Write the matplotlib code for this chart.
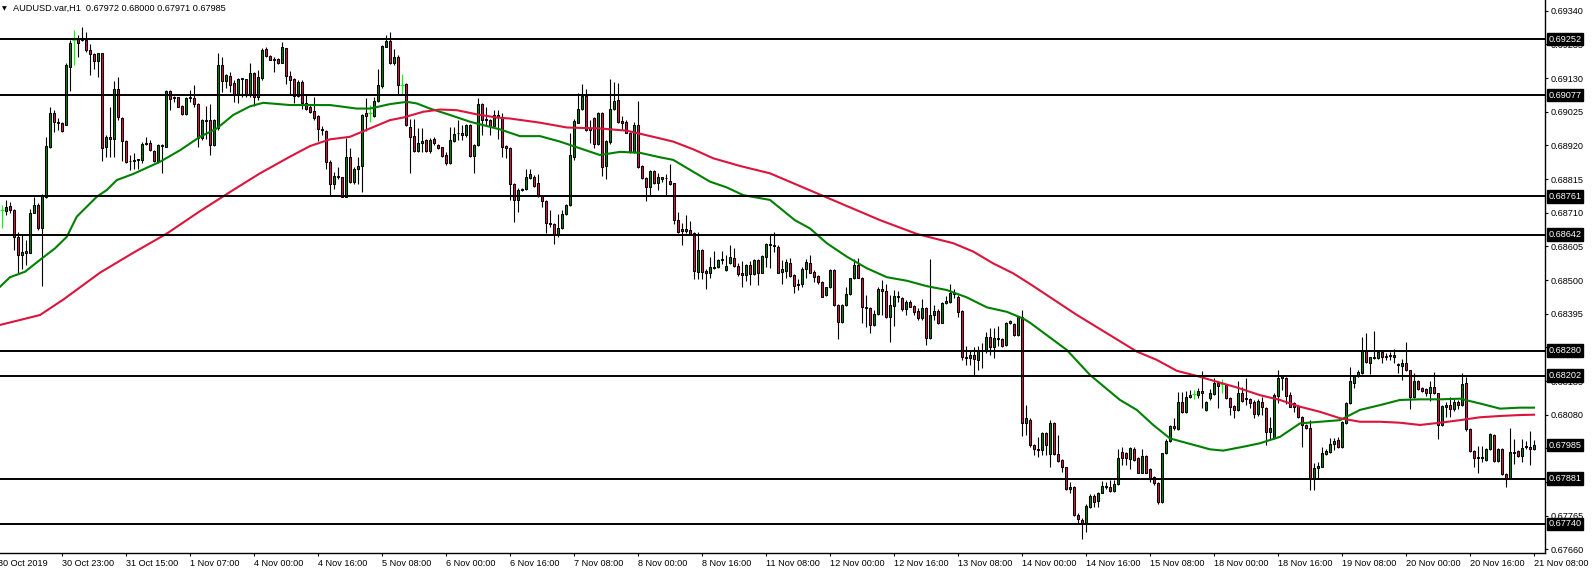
import numpy as np
import matplotlib
matplotlib.use("Agg")
import matplotlib.pyplot as plt
from matplotlib.transforms import blended_transform_factory

# AUDUSD.var H1 candles, oldest first, prices in pips (x 0.0001)
opens_pips = [
    6871.8, 6871.6, 6873.1, 6872.0, 6863.5, 6857.8, 6858.5, 6858.6,
    6871.0, 6873.4, 6866.1, 6876.0, 6891.4, 6902.2, 6899.4, 6898.9,
    6898.5, 6916.5, 6924.9, 6925.4, 6924.9, 6924.9, 6921.7, 6920.5,
    6918.4, 6920.7, 6891.6, 6894.7, 6893.9, 6909.5, 6900.7, 6893.5,
    6887.3, 6887.1, 6887.4, 6887.4, 6892.9, 6892.8, 6890.2, 6887.2,
    6891.8, 6891.6, 6909.0, 6907.0, 6907.0, 6904.3, 6901.7, 6906.7,
    6906.7, 6904.9, 6894.2, 6899.9, 6899.9, 6892.0, 6897.3, 6917.1,
    6912.2, 6913.7, 6911.5, 6907.7, 6912.6, 6912.7, 6907.7, 6914.5,
    6907.2, 6912.9, 6922.0, 6919.9, 6919.1, 6919.1, 6917.8, 6922.3,
    6913.6, 6912.6, 6907.4, 6911.9, 6905.1, 6903.9, 6902.8, 6901.1,
    6897.0, 6896.5, 6886.9, 6879.9, 6882.2, 6882.0, 6876.0, 6888.3,
    6880.7, 6884.8, 6885.6, 6902.0, 6902.0, 6901.1, 6905.9, 6910.6,
    6922.8, 6924.7, 6917.6, 6919.7, 6911.0, 6911.3, 6897.6, 6894.9,
    6890.3, 6892.8, 6893.7, 6890.3, 6893.9, 6892.1, 6891.4, 6889.0,
    6886.4, 6893.5, 6895.8, 6896.0, 6895.2, 6898.3, 6888.7, 6892.1,
    6904.9, 6900.2, 6899.9, 6898.0, 6901.5, 6900.9, 6891.8, 6891.1,
    6879.9, 6875.0, 6878.1, 6878.3, 6881.7, 6882.2, 6880.2, 6876.2,
    6874.7, 6867.9, 6867.5, 6864.4, 6866.1, 6870.6, 6873.4, 6888.5,
    6899.1, 6903.3, 6907.4, 6897.3, 6900.5, 6892.6, 6902.2, 6885.6,
    6893.2, 6903.3, 6906.2, 6899.6, 6899.4, 6896.0, 6890.0, 6898.4,
    6885.6, 6881.7, 6878.9, 6884.0, 6880.2, 6882.0, 6881.7, 6880.9,
    6880.2, 6868.7, 6865.8, 6865.3, 6865.6, 6864.8, 6852.6, 6859.4,
    6852.9, 6852.1, 6854.0, 6854.0, 6856.3, 6853.1, 6855.2, 6856.8,
    6854.4, 6852.1, 6851.6, 6854.7, 6851.9, 6856.3, 6852.3, 6857.3,
    6860.9, 6860.6, 6860.4, 6852.6, 6852.9, 6855.4, 6851.6, 6848.8,
    6848.8, 6853.3, 6855.4, 6852.6, 6851.3, 6849.5, 6845.3, 6847.7,
    6853.1, 6842.2, 6837.0, 6842.2, 6845.6, 6850.5, 6854.7, 6850.8,
    6841.5, 6841.2, 6836.0, 6839.4, 6847.1, 6846.7, 6838.4, 6841.9,
    6845.0, 6844.3, 6840.9, 6843.3, 6841.9, 6840.5, 6838.1, 6841.2,
    6831.8, 6839.1, 6840.5, 6836.7, 6843.0, 6843.3, 6846.1, 6844.8,
    6840.5, 6826.1, 6825.6, 6826.6, 6825.1, 6827.8, 6828.2, 6832.1,
    6829.2, 6831.6, 6831.5, 6829.7, 6836.5, 6836.3, 6832.8, 6838.6,
    6805.5, 6806.5, 6798.5, 6797.2, 6797.0, 6802.4, 6795.8, 6805.5,
    6795.8, 6793.9, 6791.6, 6784.7, 6785.6, 6776.7, 6775.2, 6774.1,
    6779.3, 6782.6, 6781.2, 6783.7, 6785.4, 6785.4, 6784.3, 6786.4,
    6796.5, 6796.2, 6794.1, 6797.2, 6794.4, 6789.9, 6795.1, 6791.0,
    6788.7, 6786.8, 6780.9, 6795.9, 6799.9, 6804.5, 6803.4, 6812.1,
    6808.9, 6813.6, 6814.5, 6814.2, 6815.5, 6809.5, 6813.1, 6814.5,
    6817.8, 6817.5, 6817.3, 6813.1, 6810.7, 6809.5, 6814.9, 6813.1,
    6812.8, 6812.1, 6808.2, 6812.1, 6810.0, 6802.7, 6800.6, 6813.8,
    6819.3, 6819.3, 6814.1, 6811.5, 6810.7, 6807.2, 6804.8, 6804.0,
    6788.1, 6791.3, 6791.8, 6795.7, 6796.4, 6798.9, 6800.1, 6797.8,
    6805.5, 6811.5, 6818.0, 6820.1, 6820.9, 6828.0, 6824.2, 6825.6,
    6825.6, 6827.7, 6826.3, 6826.2, 6826.1, 6823.8, 6823.2, 6824.0,
    6821.9, 6813.4, 6818.6, 6816.2, 6815.9, 6814.7, 6816.5, 6814.7,
    6804.8, 6810.5, 6811.0, 6809.7, 6812.1, 6811.0, 6818.0, 6803.4,
    6796.8, 6794.4, 6794.9, 6793.9, 6797.2, 6801.7, 6793.7, 6797.2,
    6789.5, 6788.1, 6796.5, 6796.8, 6795.1, 6798.2, 6798.0, 6797.2,
]
highs_pips = [
    6873.4, 6874.9, 6874.4, 6872.3, 6865.1, 6864.0, 6862.5, 6872.3,
    6876.0, 6873.9, 6877.0, 6894.7, 6903.9, 6903.0, 6900.7, 6899.4,
    6917.6, 6924.9, 6928.0, 6926.4, 6929.0, 6927.5, 6923.8, 6920.7,
    6920.9, 6920.9, 6895.2, 6903.9, 6912.2, 6913.4, 6900.9, 6893.7,
    6889.0, 6889.5, 6887.9, 6893.1, 6894.5, 6893.7, 6890.5, 6892.4,
    6892.6, 6909.3, 6909.3, 6907.4, 6907.2, 6904.6, 6907.2, 6909.3,
    6910.8, 6905.1, 6900.4, 6904.3, 6904.9, 6900.1, 6920.7, 6919.7,
    6914.3, 6915.0, 6912.4, 6912.9, 6913.1, 6912.7, 6917.6, 6915.0,
    6915.5, 6922.3, 6922.6, 6920.2, 6919.7, 6919.4, 6924.3, 6922.4,
    6915.3, 6912.9, 6912.4, 6912.4, 6908.0, 6904.6, 6907.2, 6901.5,
    6898.0, 6896.8, 6887.4, 6883.8, 6885.3, 6882.2, 6894.2, 6891.1,
    6885.3, 6888.5, 6901.8, 6906.7, 6904.6, 6907.0, 6916.0, 6923.3,
    6926.4, 6927.5, 6922.0, 6920.2, 6914.3, 6911.5, 6900.1, 6900.1,
    6897.3, 6897.3, 6893.9, 6894.2, 6894.7, 6892.4, 6891.6, 6890.0,
    6897.6, 6897.6, 6899.9, 6898.3, 6898.7, 6898.7, 6892.4, 6906.7,
    6905.1, 6904.1, 6900.1, 6903.2, 6903.0, 6902.0, 6892.1, 6891.4,
    6880.2, 6878.6, 6878.6, 6884.8, 6884.8, 6882.8, 6883.1, 6876.5,
    6875.0, 6871.8, 6867.7, 6870.6, 6872.0, 6873.7, 6895.8, 6900.1,
    6908.3, 6911.2, 6909.5, 6899.9, 6900.8, 6902.5, 6902.5, 6893.7,
    6912.6, 6911.9, 6911.6, 6901.2, 6899.9, 6896.3, 6899.4, 6906.0,
    6885.9, 6882.2, 6884.3, 6884.3, 6883.5, 6882.2, 6883.1, 6886.2,
    6880.4, 6871.3, 6867.7, 6870.3, 6868.5, 6865.1, 6865.1, 6859.6,
    6853.3, 6857.1, 6859.2, 6856.5, 6859.2, 6857.8, 6860.9, 6859.9,
    6855.2, 6856.0, 6855.0, 6856.0, 6856.5, 6856.5, 6857.8, 6861.5,
    6864.1, 6865.1, 6860.9, 6856.3, 6856.5, 6856.8, 6851.9, 6850.2,
    6854.2, 6856.5, 6857.8, 6853.1, 6851.6, 6849.8, 6847.9, 6853.4,
    6853.4, 6842.5, 6842.5, 6847.9, 6850.8, 6856.5, 6856.8, 6851.1,
    6845.3, 6841.5, 6840.7, 6847.9, 6850.0, 6848.8, 6845.3, 6846.9,
    6846.7, 6844.8, 6843.8, 6843.8, 6842.2, 6841.2, 6844.0, 6841.5,
    6856.5, 6842.2, 6840.9, 6843.3, 6845.0, 6848.8, 6847.1, 6845.3,
    6840.7, 6829.4, 6828.0, 6829.2, 6829.4, 6830.5, 6833.9, 6835.2,
    6835.2, 6835.7, 6831.8, 6837.0, 6837.7, 6836.5, 6838.8, 6840.7,
    6811.0, 6806.9, 6798.9, 6801.2, 6802.7, 6802.7, 6806.2, 6805.8,
    6801.7, 6794.1, 6791.8, 6787.1, 6785.8, 6777.2, 6775.7, 6780.2,
    6783.3, 6783.3, 6784.0, 6787.4, 6787.1, 6787.6, 6787.6, 6797.2,
    6797.8, 6796.5, 6798.0, 6797.8, 6794.7, 6797.2, 6795.4, 6791.3,
    6788.9, 6787.1, 6796.2, 6800.3, 6804.8, 6806.9, 6815.2, 6815.2,
    6815.5, 6815.7, 6815.7, 6816.2, 6821.7, 6812.4, 6815.9, 6819.4,
    6818.3, 6819.0, 6817.6, 6813.4, 6811.0, 6818.6, 6816.7, 6819.4,
    6813.1, 6812.6, 6812.8, 6813.6, 6810.3, 6807.4, 6814.7, 6821.9,
    6820.4, 6819.9, 6815.2, 6812.1, 6811.0, 6807.6, 6805.1, 6806.5,
    6792.8, 6793.3, 6798.0, 6797.2, 6800.6, 6800.6, 6801.1, 6806.1,
    6812.1, 6823.0, 6820.4, 6821.9, 6832.1, 6833.6, 6826.1, 6834.2,
    6828.2, 6828.0, 6827.1, 6827.7, 6828.4, 6824.0, 6825.3, 6830.8,
    6822.1, 6821.1, 6818.8, 6816.5, 6816.2, 6818.6, 6821.4, 6814.9,
    6811.0, 6812.1, 6813.4, 6812.8, 6812.6, 6821.1, 6819.9, 6803.7,
    6797.0, 6798.2, 6798.2, 6797.5, 6802.2, 6802.0, 6797.5, 6797.5,
    6789.7, 6803.7, 6800.3, 6797.0, 6800.3, 6799.9, 6803.0, 6800.0,
]
lows_pips = [
    6866.1, 6870.3, 6870.8, 6859.3, 6852.1, 6853.6, 6854.7, 6858.3,
    6870.8, 6865.6, 6848.2, 6875.5, 6891.1, 6896.3, 6896.8, 6896.3,
    6898.3, 6909.1, 6917.1, 6919.5, 6924.7, 6921.2, 6913.9, 6916.0,
    6913.2, 6887.2, 6888.5, 6888.5, 6888.5, 6899.9, 6887.1, 6886.4,
    6884.3, 6884.8, 6884.8, 6886.4, 6892.1, 6890.2, 6886.9, 6886.4,
    6883.5, 6891.4, 6903.0, 6905.6, 6903.9, 6901.5, 6901.5, 6905.6,
    6904.1, 6891.6, 6893.7, 6893.9, 6889.1, 6891.8, 6896.8, 6908.7,
    6909.8, 6908.7, 6905.6, 6905.3, 6907.2, 6907.2, 6907.2, 6904.3,
    6906.1, 6912.4, 6919.7, 6918.5, 6915.0, 6917.4, 6917.6, 6911.3,
    6908.2, 6905.1, 6907.2, 6903.5, 6903.2, 6902.0, 6899.9, 6893.5,
    6895.2, 6884.8, 6876.5, 6878.3, 6881.4, 6875.8, 6875.8, 6880.3,
    6880.1, 6880.1, 6877.5, 6896.6, 6899.4, 6900.9, 6905.6, 6909.8,
    6922.6, 6917.4, 6917.1, 6907.7, 6907.7, 6898.0, 6883.3, 6890.0,
    6890.0, 6890.0, 6890.0, 6889.5, 6892.1, 6890.8, 6888.5, 6885.9,
    6886.2, 6893.1, 6893.7, 6893.7, 6894.7, 6888.5, 6883.5, 6891.8,
    6895.2, 6898.0, 6895.2, 6897.6, 6893.9, 6888.3, 6888.0, 6875.0,
    6868.2, 6871.3, 6877.9, 6878.1, 6881.4, 6879.1, 6876.0, 6872.9,
    6864.6, 6866.6, 6861.1, 6863.5, 6865.8, 6870.3, 6873.1, 6887.5,
    6898.9, 6903.1, 6896.6, 6892.9, 6891.1, 6892.1, 6882.5, 6881.4,
    6892.6, 6903.1, 6899.1, 6896.8, 6895.8, 6889.7, 6889.7, 6885.0,
    6881.4, 6874.8, 6876.5, 6880.0, 6878.1, 6880.7, 6876.2, 6879.7,
    6867.5, 6864.8, 6860.9, 6864.8, 6864.1, 6850.2, 6850.2, 6850.2,
    6847.1, 6850.5, 6853.3, 6853.7, 6855.0, 6852.9, 6855.0, 6854.2,
    6851.3, 6847.9, 6849.8, 6848.4, 6851.6, 6848.4, 6852.1, 6854.2,
    6853.7, 6858.9, 6852.1, 6848.8, 6850.5, 6851.1, 6846.1, 6846.9,
    6847.9, 6850.5, 6852.1, 6849.5, 6848.8, 6844.6, 6845.0, 6847.4,
    6841.9, 6831.5, 6836.7, 6841.9, 6845.3, 6850.2, 6850.5, 6836.7,
    6835.5, 6833.4, 6835.7, 6839.1, 6839.1, 6838.1, 6830.8, 6835.7,
    6843.3, 6840.5, 6839.1, 6841.5, 6839.1, 6837.7, 6837.7, 6829.7,
    6831.5, 6837.5, 6836.3, 6836.5, 6842.5, 6843.0, 6844.3, 6838.4,
    6825.1, 6823.5, 6823.5, 6820.4, 6821.9, 6822.5, 6827.1, 6826.6,
    6825.6, 6829.4, 6829.2, 6829.4, 6836.3, 6832.5, 6832.5, 6801.3,
    6801.7, 6798.0, 6795.4, 6794.9, 6795.4, 6795.4, 6791.6, 6795.4,
    6793.4, 6790.2, 6784.5, 6783.5, 6776.4, 6774.3, 6769.1, 6771.5,
    6778.8, 6779.1, 6779.3, 6783.5, 6784.7, 6784.0, 6784.0, 6786.1,
    6792.3, 6792.3, 6791.0, 6793.7, 6789.7, 6789.7, 6789.7, 6787.1,
    6786.1, 6780.2, 6780.4, 6795.7, 6799.6, 6803.2, 6803.2, 6808.6,
    6808.4, 6813.1, 6812.8, 6813.1, 6810.0, 6809.3, 6812.6, 6814.2,
    6810.0, 6814.9, 6812.8, 6807.9, 6806.9, 6809.3, 6812.1, 6811.0,
    6810.0, 6806.9, 6807.6, 6807.9, 6798.5, 6800.1, 6800.3, 6811.5,
    6815.7, 6811.3, 6810.3, 6808.9, 6806.9, 6797.8, 6803.4, 6784.5,
    6784.5, 6788.1, 6791.6, 6795.4, 6796.1, 6797.0, 6797.5, 6797.5,
    6805.1, 6811.3, 6816.2, 6819.9, 6820.7, 6824.2, 6820.7, 6825.3,
    6825.3, 6824.2, 6825.1, 6825.1, 6824.2, 6821.1, 6818.8, 6821.7,
    6809.7, 6813.1, 6815.7, 6815.2, 6813.8, 6812.4, 6814.4, 6800.3,
    6804.5, 6807.2, 6807.2, 6809.2, 6809.7, 6810.7, 6803.0, 6796.5,
    6791.6, 6789.7, 6793.3, 6793.7, 6797.0, 6793.3, 6793.3, 6789.2,
    6785.3, 6787.8, 6792.6, 6794.9, 6793.3, 6797.2, 6792.3, 6797.1,
]
closes_pips = [
    6871.8, 6872.9, 6872.0, 6863.5, 6857.8, 6858.8, 6859.0, 6870.8,
    6873.4, 6866.1, 6876.5, 6891.8, 6902.0, 6899.2, 6898.9, 6896.6,
    6917.1, 6924.1, 6924.9, 6924.0, 6925.4, 6921.7, 6920.4, 6918.4,
    6920.7, 6891.3, 6894.5, 6893.9, 6909.5, 6900.9, 6893.5, 6886.9,
    6887.1, 6887.4, 6887.8, 6892.6, 6892.3, 6890.5, 6887.1, 6892.1,
    6892.1, 6909.0, 6906.4, 6906.7, 6904.1, 6901.7, 6906.9, 6907.0,
    6904.9, 6894.2, 6899.9, 6899.7, 6892.0, 6899.9, 6917.1, 6912.2,
    6913.9, 6910.8, 6907.7, 6912.6, 6912.9, 6907.7, 6914.5, 6907.2,
    6913.4, 6921.7, 6919.9, 6918.8, 6918.8, 6917.8, 6922.6, 6913.6,
    6912.4, 6907.4, 6911.9, 6905.1, 6903.5, 6902.5, 6900.7, 6897.0,
    6896.8, 6886.9, 6880.1, 6882.4, 6882.4, 6876.0, 6888.3, 6880.7,
    6884.8, 6885.6, 6901.5, 6901.1, 6902.0, 6905.9, 6910.8, 6923.0,
    6924.7, 6917.6, 6919.5, 6911.0, 6911.0, 6898.4, 6894.5, 6890.2,
    6892.8, 6893.4, 6890.3, 6893.7, 6892.8, 6891.1, 6888.8, 6886.4,
    6893.7, 6895.5, 6896.0, 6895.2, 6898.3, 6888.7, 6892.1, 6904.9,
    6899.9, 6899.9, 6898.0, 6901.5, 6900.9, 6891.4, 6891.1, 6879.9,
    6875.0, 6878.1, 6878.4, 6882.0, 6883.1, 6879.3, 6876.2, 6874.7,
    6867.7, 6867.5, 6864.4, 6866.1, 6870.6, 6873.4, 6889.0, 6899.7,
    6903.3, 6907.4, 6896.8, 6896.8, 6892.6, 6902.2, 6885.4, 6893.5,
    6903.3, 6906.0, 6899.4, 6899.1, 6896.0, 6890.0, 6898.4, 6885.4,
    6881.7, 6878.9, 6884.0, 6880.2, 6882.0, 6881.5, 6881.9, 6879.9,
    6868.7, 6865.1, 6865.3, 6865.8, 6864.4, 6852.9, 6859.4, 6852.6,
    6852.1, 6854.0, 6853.7, 6856.3, 6856.6, 6854.4, 6857.1, 6854.4,
    6851.9, 6851.6, 6854.7, 6851.9, 6856.3, 6852.1, 6857.5, 6861.3,
    6861.2, 6860.9, 6852.3, 6853.3, 6855.7, 6851.3, 6848.1, 6848.4,
    6853.3, 6855.7, 6852.3, 6851.1, 6849.5, 6844.8, 6847.7, 6853.1,
    6842.2, 6837.0, 6842.2, 6845.6, 6850.5, 6854.7, 6850.8, 6841.5,
    6841.2, 6836.0, 6839.4, 6847.1, 6846.7, 6838.4, 6842.2, 6845.0,
    6844.6, 6840.9, 6843.3, 6841.7, 6840.1, 6838.1, 6841.2, 6831.8,
    6839.1, 6840.5, 6836.7, 6842.9, 6843.6, 6846.1, 6845.7, 6840.1,
    6825.9, 6825.6, 6826.6, 6825.3, 6828.0, 6828.0, 6832.1, 6829.2,
    6831.8, 6831.9, 6829.4, 6836.7, 6837.3, 6832.8, 6838.6, 6805.5,
    6806.9, 6798.5, 6797.2, 6797.0, 6802.4, 6798.5, 6805.5, 6795.8,
    6793.7, 6791.6, 6784.7, 6785.6, 6776.7, 6775.4, 6774.1, 6779.5,
    6782.6, 6780.9, 6783.7, 6785.8, 6785.8, 6784.3, 6786.4, 6794.4,
    6794.4, 6794.4, 6797.5, 6793.9, 6789.9, 6795.1, 6789.9, 6788.2,
    6786.8, 6780.9, 6795.9, 6799.9, 6804.5, 6803.8, 6812.1, 6808.9,
    6813.4, 6814.2, 6814.5, 6815.5, 6814.7, 6812.1, 6814.7, 6817.8,
    6817.0, 6817.5, 6813.1, 6810.5, 6809.5, 6814.9, 6812.4, 6812.8,
    6811.8, 6808.2, 6812.4, 6810.3, 6802.7, 6804.0, 6814.1, 6819.3,
    6820.1, 6813.8, 6810.5, 6810.3, 6807.2, 6804.8, 6804.0, 6788.1,
    6791.3, 6792.0, 6795.9, 6796.7, 6798.9, 6799.9, 6797.8, 6805.8,
    6811.5, 6818.6, 6820.1, 6821.4, 6828.0, 6824.5, 6825.9, 6825.9,
    6827.7, 6825.9, 6825.9, 6826.5, 6826.6, 6823.5, 6824.0, 6821.9,
    6813.4, 6818.6, 6815.9, 6815.5, 6814.7, 6816.5, 6814.7, 6804.8,
    6810.7, 6810.9, 6809.7, 6812.1, 6811.0, 6817.6, 6803.4, 6796.8,
    6794.4, 6794.9, 6794.4, 6797.2, 6802.0, 6793.7, 6797.2, 6789.5,
    6788.1, 6796.5, 6796.2, 6795.1, 6797.5, 6797.8, 6797.2, 6798.5,
]

# moving averages at these bar positions
ma_fast_bars = [-0.5, 2, 5.75, 9.5, 13.25, 16.2, 18.7, 23.7, 26.2, 28.7,
                32.8, 39.5, 44.5, 49.5, 53.7, 57.8, 62, 65.3, 72, 82,
                88.7, 92, 97, 101.2, 103.7, 107, 112, 117, 122, 124.5,
                129.5, 134.5, 139.5, 144.5, 149.5, 154.5, 159.5, 164.5, 167.8, 172.8,
                177, 181.2, 185.3, 192, 198.2, 202, 206.2, 211.2, 216.2, 221.2,
                226.2, 231.2, 236.2, 241.2, 246.2, 251.2, 255.3, 257, 266.2, 272,
                277, 279.5, 283.7, 287.8, 292, 297, 302, 305.3, 310.3, 314.5,
                319.5, 324.5, 329.5, 334.5, 339.5, 344.5, 349.5, 354.5, 359.5, 364.5,
                369.5, 374.5, 379.5, 383]
ma_fast_pips = [6847.9, 6850.9, 6852.6, 6856.3, 6859.9, 6863.5, 6869.8, 6876.0, 6878.1, 6881.2,
                6883.1, 6886.9, 6890.5, 6894.7, 6897.3, 6901.5, 6904.2, 6905.3, 6904.6, 6904.6,
                6903.5, 6903.5, 6904.9, 6905.6, 6905.1, 6903.5, 6901.5, 6899.4, 6897.8, 6897.0,
                6894.9, 6894.9, 6893.2, 6891.1, 6889.0, 6890.0, 6889.7, 6888.3, 6887.5, 6883.8,
                6880.7, 6878.9, 6876.5, 6875.0, 6868.7, 6866.1, 6861.5, 6857.3, 6853.7, 6850.9,
                6849.8, 6848.1, 6846.9, 6844.6, 6841.5, 6840.1, 6838.0, 6836.7, 6828.2, 6820.4,
                6815.2, 6812.6, 6809.5, 6804.8, 6800.6, 6798.9, 6797.2, 6796.8, 6798.0, 6799.1,
                6801.1, 6805.3, 6805.8, 6806.3, 6809.5, 6811.0, 6812.6, 6812.8, 6812.8, 6813.0,
                6811.5, 6809.9, 6810.2, 6810.2]
ma_slow_bars = [-0.5, 9.5, 15.3, 24.5, 32.8, 41.2, 49.5, 57.8, 64.5, 72,
                77, 82, 87, 92, 97, 100.3, 105.3, 109.5, 113.7, 118.7,
                123.7, 127, 134.5, 141.2, 149.5, 156.2, 162.8, 167.8, 172.8, 177.8,
                184.5, 192, 219.5, 228.7, 237.8, 242.8, 247.8, 252.8, 257, 268.5,
                283.7, 288.7, 293.7, 298.7, 303.7, 308.7, 314.5, 319.5, 324.5, 329.5,
                334.5, 339.5, 344.5, 349.5, 354.5, 359.5, 364.5, 369.5, 374.5, 379.5, 383]
ma_slow_pips = [6836.0, 6839.1, 6843.9, 6852.3, 6858.5, 6864.5, 6871.5, 6878.1, 6883.3, 6888.5,
                6891.8, 6893.9, 6894.7, 6897.3, 6899.9, 6900.7, 6902.5, 6903.2, 6903.0, 6901.7,
                6900.7, 6900.4, 6899.1, 6897.6, 6897.3, 6896.6, 6894.7, 6893.2, 6890.8, 6888.0,
                6885.6, 6883.3, 6868.7, 6864.4, 6861.5, 6858.9, 6855.2, 6852.1, 6848.8, 6839.3,
                6827.7, 6825.1, 6821.7, 6820.1, 6818.3, 6816.5, 6814.1, 6812.6, 6810.5, 6808.9,
                6806.9, 6805.8, 6805.8, 6805.5, 6804.8, 6805.5, 6806.3, 6807.2, 6807.6, 6807.9, 6808.0]

levels = [0.69252, 0.69077, 0.68761, 0.68642, 0.68280, 0.68202, 0.67881, 0.67740]
last_price = 0.67985

price_ticks = [0.69340, 0.69235, 0.69130, 0.69025, 0.68920, 0.68815, 0.68710, 0.68605,
               0.68500, 0.68395, 0.68290, 0.68185, 0.68080, 0.67975, 0.67870, 0.67765, 0.67660]

date_labels = ["30 Oct 2019", "30 Oct 23:00", "31 Oct 15:00", "1 Nov 07:00", "4 Nov 00:00",
               "4 Nov 16:00", "5 Nov 08:00", "6 Nov 00:00", "6 Nov 16:00", "7 Nov 08:00",
               "8 Nov 00:00", "8 Nov 16:00", "11 Nov 08:00", "12 Nov 00:00", "12 Nov 16:00",
               "13 Nov 08:00", "14 Nov 00:00", "14 Nov 16:00", "15 Nov 08:00", "18 Nov 00:00",
               "18 Nov 16:00", "19 Nov 08:00", "20 Nov 00:00", "20 Nov 16:00", "21 Nov 08:00"]
date_label_bars = [-1, 15, 31, 47, 63, 79, 95, 111, 127, 143, 159, 175, 191,
                   207, 223, 239, 255, 271, 287, 303, 319, 335, 351, 367, 383]

title = "AUDUSD.var,H1  0.67972 0.68000 0.67971 0.67985"

BULL = "#008000"
BEAR = "#dc143c"
DOJI = "#00ff00"
FONT = "Liberation Sans"
FS = 6.6

o_p = np.array(opens_pips)
c_p = np.array(closes_pips)
o = o_p / 1e4
c = c_p / 1e4
h = np.maximum(np.array(highs_pips) / 1e4, np.maximum(o, c))
l = np.minimum(np.array(lows_pips) / 1e4, np.minimum(o, c))
x = np.arange(len(o))

W, H = 1592, 569
fig = plt.figure(figsize=(W / 100, H / 100), dpi=100)
ax = fig.add_axes([-2 / W, 16 / H, 1547 / W, 553 / H])
ax.set_xlim(-1, 385.75)
ax.set_ylim(0.676486, 0.693737)

doji = o_p == c_p
up = c_p > o_p
dn = c_p < o_p

# wicks
ax.vlines(x[~doji], l[~doji], h[~doji], color="black", lw=0.8, zorder=2)
ax.vlines(x[doji], l[doji], h[doji], color=DOJI, lw=0.8, zorder=2)
ax.hlines(o[doji], x[doji] - 0.4, x[doji] + 0.4, color=DOJI, lw=0.8, zorder=2)

# bodies
bottom = np.minimum(o, c)
height = np.abs(c - o)
ax.bar(x[up], height[up], 0.55, bottom=bottom[up], color=BULL,
       edgecolor="black", linewidth=0.75, zorder=2.5)
ax.bar(x[dn], height[dn], 0.55, bottom=bottom[dn], color=BEAR,
       edgecolor="black", linewidth=0.75, zorder=2.5)

# moving averages
ax.plot(ma_fast_bars, np.array(ma_fast_pips) / 1e4, color=BULL, lw=1.5, zorder=3)
ax.plot(ma_slow_bars, np.array(ma_slow_pips) / 1e4, color=BEAR, lw=1.5, zorder=3)

# support / resistance levels
for lv in levels:
    ax.axhline(lv, color="black", lw=1.4, zorder=4)

# axes styling
for s in ("left", "top"):
    ax.spines[s].set_visible(False)
for s in ("right", "bottom"):
    ax.spines[s].set_linewidth(1.0)
    ax.spines[s].set_color("black")

ax.yaxis.tick_right()
ax.set_yticks(price_ticks)
ax.set_yticklabels([f"{v:.5f}" for v in price_ticks], fontfamily=FONT, fontsize=FS)
ax.tick_params(axis="y", direction="out", length=2.5, width=0.8, pad=1.5)

ax.set_xticks(date_label_bars)
ax.set_xticklabels(date_labels, fontfamily=FONT, fontsize=FS)
for lbl in ax.get_xticklabels():
    lbl.set_ha("left")
ax.tick_params(axis="x", direction="out", length=2.5, width=0.8, pad=1.5)

# boxed price labels on the scale
trans = blended_transform_factory(ax.transAxes, ax.transData)
for lv in levels + [last_price]:
    ax.text(1.0022, lv, f"{lv:.5f}", transform=trans, color="white",
            fontfamily=FONT, fontsize=FS, va="center", ha="left", zorder=6,
            clip_on=False,
            bbox=dict(boxstyle="square,pad=0.18", facecolor="black", edgecolor="black"))

# header
fig.text(13 / W, 1 - 8.5 / H, title, fontfamily=FONT, fontsize=FS, va="center", ha="left")
fig.text(2 / W, 1 - 8.5 / H, "\u25bc", fontfamily="DejaVu Sans", fontsize=4.5,
         va="center", ha="left")

fig.savefig("out.png", dpi=100, facecolor="white")
